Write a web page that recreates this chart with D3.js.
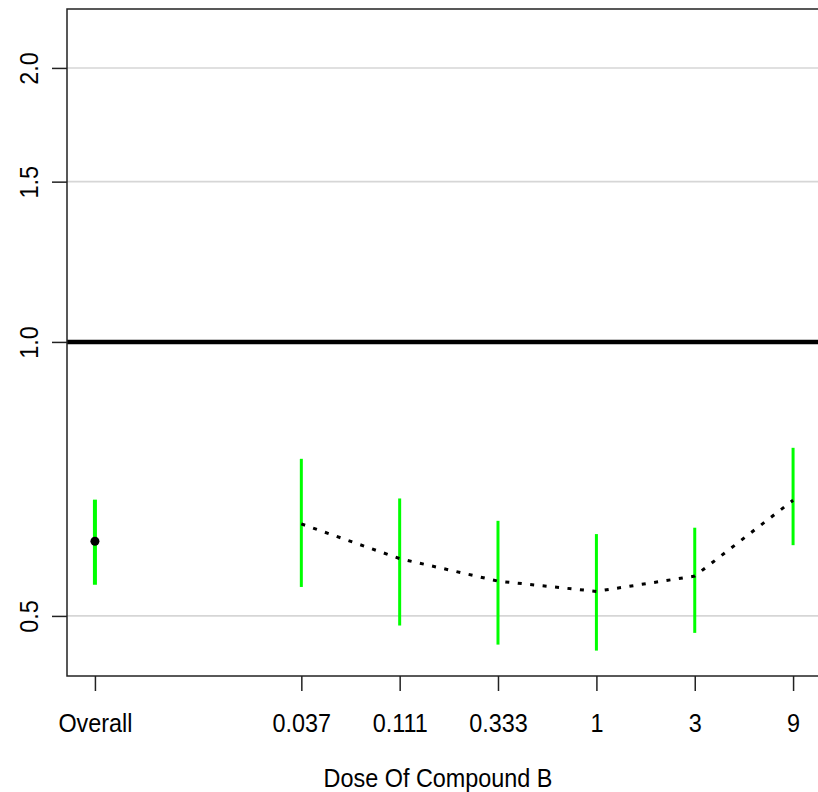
<!DOCTYPE html>
<html>
<head>
<meta charset="utf-8">
<script src="https://cdn.jsdelivr.net/npm/d3@7"></script>
<style>
  html, body { margin: 0; padding: 0; background: white; }
  svg { display: block; }
  text { font-family: 'Liberation Sans', Arial, sans-serif; fill: #000; }
</style>
</head>
<body>
<script>
// values
const doseLabels = ['0.037', '0.111', '0.333', '1', '3', '9']
const doses = [0.037, 0.111, 0.333, 1, 3, 9]
const estimates = [0.631, 0.578, 0.546, 0.532, 0.553, 0.670]
const lower = [0.538, 0.488, 0.465, 0.458, 0.479, 0.598]
const upper = [0.744, 0.673, 0.636, 0.615, 0.625, 0.765]

const overallLabel = 'Overall'
const overallEstimate = 0.604
const overallLower = 0.541
const overallUpper = 0.671

const yTicks = [0.5, 1.0, 1.5, 2.0]
const referenceValue = 1

const width = 818
const height = 792
const plot = { left: 67, right: 821, top: 9, bottom: 676 }

// overall sits a bit left of the dose series on the log3 axis
const overallPos = -5.1
const log3 = d => Math.log(d) / Math.log(3)

// R-ish narrow text
const fontSize = '26px'
const squeeze = 'scale(0.9,1)'

const svg = d3.select('body')
  .append('svg')
  .attr('width', width)
  .attr('height', height)

const x = d3.scaleLinear()
  .domain([-5.384, 2.284])
  .range([plot.left, plot.right])

const y = d3.scaleLog()
  .domain([0.4295, 2.3215])
  .range([plot.bottom, plot.top])

// light grid lines
svg.append('g')
  .selectAll('line')
  .data(yTicks.filter(t => t !== referenceValue))
  .enter()
  .append('line')
  .attr('x1', plot.left)
  .attr('x2', plot.right)
  .attr('y1', d => y(d))
  .attr('y2', d => y(d))
  .attr('stroke', '#d6d6d6')
  .attr('stroke-width', 1.6)

// reference line at 1
svg.append('line')
  .attr('x1', plot.left)
  .attr('x2', plot.right)
  .attr('y1', y(referenceValue))
  .attr('y2', y(referenceValue))
  .attr('stroke', '#000')
  .attr('stroke-width', 4.5)

// box
svg.append('rect')
  .attr('x', plot.left)
  .attr('y', plot.top)
  .attr('width', plot.right - plot.left)
  .attr('height', plot.bottom - plot.top)
  .attr('fill', 'none')
  .attr('stroke', '#222')
  .attr('stroke-width', 1.5)

// axes
const xTickVals = [overallPos].concat(doses.map(log3))
const xTickText = [overallLabel].concat(doseLabels)

const xAxis = d3.axisBottom(x)
  .tickValues(xTickVals)
  .tickFormat((d, i) => xTickText[i])
  .tickSize(15)
  .tickPadding(23)

const gx = svg.append('g')
  .attr('transform', 'translate(0,' + plot.bottom + ')')
  .call(xAxis)
gx.select('.domain').remove()
gx.selectAll('.tick line').attr('stroke', '#222').attr('stroke-width', 1.5)
gx.selectAll('.tick text')
  .attr('transform', squeeze)
  .style('font-size', fontSize)
  .attr('fill', '#111')

const yAxis = d3.axisLeft(y)
  .tickValues(yTicks)
  .tickFormat(d3.format('.1f'))
  .tickSize(15)

const gy = svg.append('g')
  .attr('transform', 'translate(' + plot.left + ',0)')
  .call(yAxis)
gy.select('.domain').remove()
gy.selectAll('.tick line').attr('stroke', '#222').attr('stroke-width', 1.5)
gy.selectAll('.tick text')
  .attr('x', null)
  .attr('dy', null)
  .attr('text-anchor', 'middle')
  .attr('transform', 'translate(-29,0) rotate(-90) ' + squeeze)
  .style('font-size', fontSize)
  .attr('fill', '#111')

// axis title
svg.append('text')
  .attr('transform', 'translate(' + ((plot.left + plot.right) / 2 - 6) + ',787) ' + squeeze)
  .attr('text-anchor', 'middle')
  .style('font-size', fontSize)
  .attr('fill', '#111')
  .text('Dose Of Compound B')

// interval bars
const bars = doses.map((d, i) => ({ pos: log3(d), lo: lower[i], hi: upper[i] }))
bars.unshift({ pos: overallPos, lo: overallLower, hi: overallUpper })

svg.append('g')
  .selectAll('line')
  .data(bars)
  .enter()
  .append('line')
  .attr('x1', d => x(d.pos))
  .attr('x2', d => x(d.pos))
  .attr('y1', d => y(d.lo))
  .attr('y2', d => y(d.hi))
  .attr('stroke', '#00ff00')
  .attr('stroke-width', (d, i) => i === 0 ? 4 : 3)

// dotted line through the dose estimates
const line = d3.line()
  .x(d => x(log3(d[0])))
  .y(d => y(d[1]))

svg.append('path')
  .datum(doses.map((d, i) => [d, estimates[i]]))
  .attr('d', line)
  .attr('fill', 'none')
  .attr('stroke', '#000')
  .attr('stroke-width', 3)
  .attr('stroke-dasharray', '4 8.5')

// overall point
svg.append('circle')
  .attr('cx', x(overallPos))
  .attr('cy', y(overallEstimate))
  .attr('r', 4.5)
  .attr('fill', '#000')
</script>
</body>
</html>
